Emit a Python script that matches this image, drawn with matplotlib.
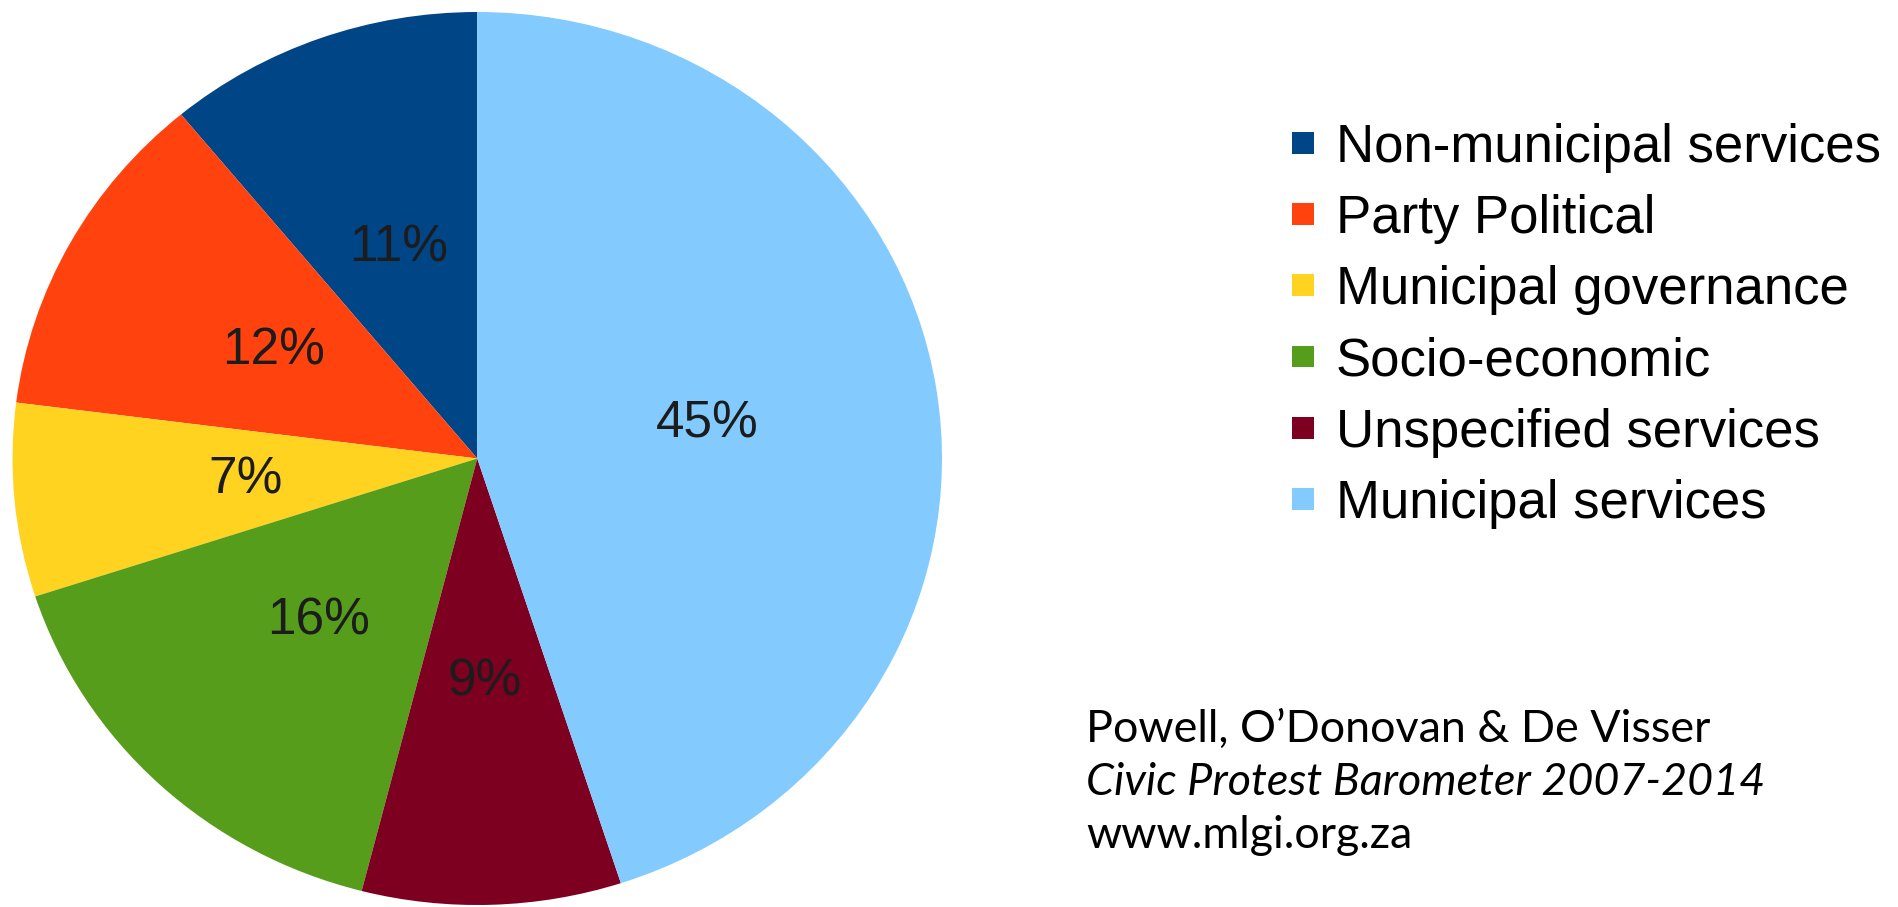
import matplotlib.pyplot as plt
from matplotlib.patches import Patch

categories = ['Non-municipal services', 'Party Political', 'Municipal governance',
              'Socio-economic', 'Unspecified services', 'Municipal services']
shares = [11, 12, 7, 16, 9, 45]
colors = ['#004586', '#ff420e', '#ffd320', '#579d1c', '#7e0021', '#83caff']

source_lines = ['Powell, O\u2019Donovan & De Visser',
                'Civic Protest Barometer 2007-2014',
                'www.mlgi.org.za']

plt.rcParams['font.family'] = ['Liberation Sans', 'DejaVu Sans']

fig = plt.figure(figsize=(18.99, 9.07), dpi=100)
ax = fig.add_axes([12.5 / 1899, 2 / 907, 929.5 / 1899, 893 / 907])

wedges, texts, autotexts = ax.pie(
    shares, colors=colors, startangle=90, radius=1,
    autopct='%1.0f%%', pctdistance=0.5,
    wedgeprops=dict(linewidth=0),
    textprops=dict(fontsize=37, color='#1c1c1c'))
# slightly wider than tall, like the original export
ax.set_aspect('auto')
ax.set_xlim(-1, 1)
ax.set_ylim(-1, 1)

handles = [Patch(facecolor=c, edgecolor='none') for c in colors]
fig.legend(handles, categories, loc='center left',
           bbox_to_anchor=(1292 / 1899, (907 - 326) / 907),
           frameon=False, fontsize=38, borderpad=0, borderaxespad=0,
           handlelength=0.415, handleheight=0.26, handletextpad=0.42,
           labelspacing=0.4)

styles = ['normal', 'italic', 'normal']
for i, (line, st) in enumerate(zip(source_lines, styles)):
    fig.text(1086 / 1899, (907 - 729 - i * 53.5) / 907, line,
             fontsize=32.3, family='Lato', style=st, va='center', ha='left',
             color='black')

fig.savefig('out.png', dpi=100, facecolor='white')
